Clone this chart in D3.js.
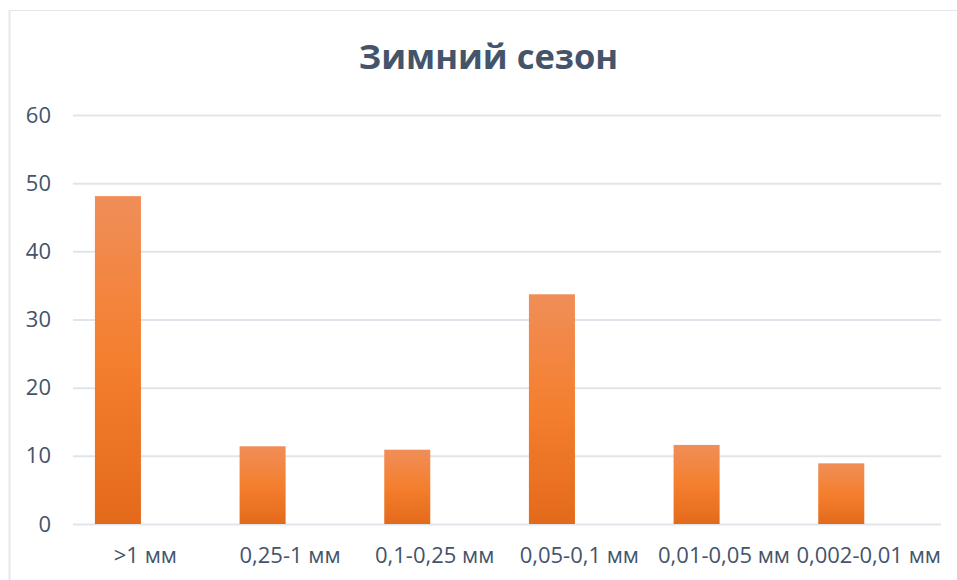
<!DOCTYPE html>
<html>
<head>
<meta charset="utf-8">
<script src="https://cdn.jsdelivr.net/npm/d3@7"></script>
<style>
  html, body { margin: 0; padding: 0; background: #ffffff; }
  svg { display: block; }
</style>
</head>
<body>
<svg id="chart" width="957" height="580"></svg>
<script>
// Fraction distribution, winter season
const title = "Зимний сезон";
const categories = [">1 мм", "0,25-1 мм", "0,1-0,25 мм", "0,05-0,1 мм", "0,01-0,05 мм", "0,002-0,01 мм"];
const winterValues = [48.1, 11.4, 10.9, 33.7, 11.6, 8.9];
const yTicks = [0, 10, 20, 30, 40, 50, 60];
// each category keeps two bar slots; the winter series occupies the first
const barSlots = ["Зимний сезон", "—"];

const W = 957, H = 580;
const margin = { top: 115, right: 16, bottom: 56, left: 73 };
const textColor = "#44546a";
const gridColor = "#e1e5eb";
const font = "'Open Sans', 'Noto Sans', sans-serif";

const svg = d3.select("#chart");

// frame of the chart area
svg.append("line").attr("x1", 9).attr("x2", W).attr("y1", 10.5).attr("y2", 10.5)
  .attr("stroke", "#e6e6ee").attr("stroke-width", 1.2);
svg.append("line").attr("x1", 9.5).attr("x2", 9.5).attr("y1", 10).attr("y2", H)
  .attr("stroke", "#e3e7ee").attr("stroke-width", 2);

const x = d3.scaleBand().domain(categories).range([margin.left, W - margin.right]).padding(0);
const slot = d3.scaleBand().domain(barSlots).range([0, x.bandwidth()])
  .paddingInner(0.16).paddingOuter(0.40);
const y = d3.scaleLinear().domain([0, 60]).range([H - margin.bottom, margin.top]);

// gradient fill of the bars
const defs = svg.append("defs");
const grad = defs.append("linearGradient").attr("id", "barFill")
  .attr("x1", 0).attr("y1", 0).attr("x2", 0).attr("y2", 1);
grad.append("stop").attr("offset", "0%").attr("stop-color", "#f08e58");
grad.append("stop").attr("offset", "50%").attr("stop-color", "#f47f2e");
grad.append("stop").attr("offset", "100%").attr("stop-color", "#e46a1b");

// horizontal gridlines
const yAxis = d3.axisLeft(y).tickValues(yTicks).tickSize(-(W - margin.right - margin.left)).tickPadding(22);
const gy = svg.append("g").attr("transform", `translate(${margin.left},0)`).call(yAxis);
gy.select(".domain").remove();
gy.selectAll(".tick line").attr("stroke", gridColor).attr("stroke-width", 2);
gy.selectAll(".tick text").attr("fill", textColor).attr("font-family", font)
  .attr("font-size", 22);

// bars
svg.append("g").selectAll("rect").data(winterValues).join("rect")
  .attr("x", (d, i) => x(categories[i]) + slot(barSlots[0]))
  .attr("width", slot.bandwidth())
  .attr("y", d => y(d))
  .attr("height", d => y(0) - y(d))
  .attr("fill", "url(#barFill)");

// category labels
const xAxis = d3.axisBottom(x).tickSize(0).tickPadding(23);
const gx = svg.append("g").attr("transform", `translate(0,${y(0)})`).call(xAxis);
gx.select(".domain").remove();
gx.selectAll(".tick text").attr("fill", textColor).attr("font-family", font)
  .attr("font-size", 22);

// title
svg.append("text").attr("x", 488.5).attr("y", 69).attr("text-anchor", "middle")
  .attr("fill", textColor).attr("font-family", font).attr("font-weight", 700)
  .attr("font-size", 34.5).text(title);
</script>
</body>
</html>
